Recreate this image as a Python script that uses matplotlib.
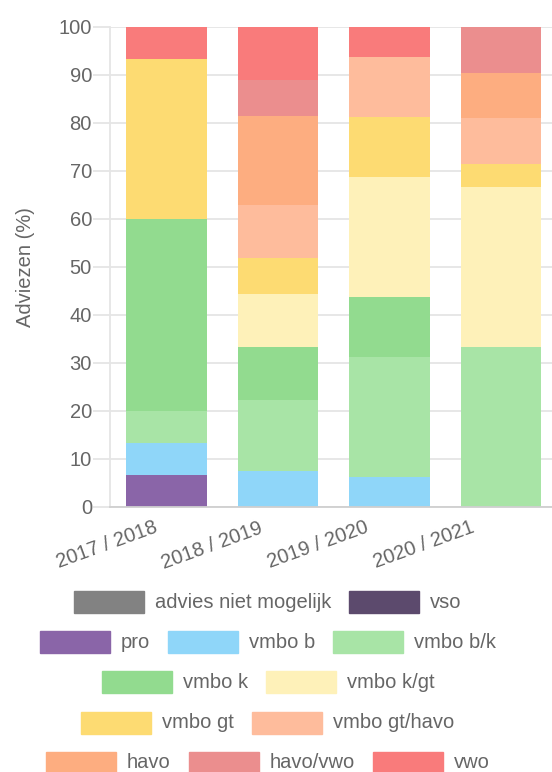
import matplotlib.pyplot as plt
import matplotlib.patches as mpatches
import matplotlib.transforms as mtransforms
import numpy as np

plt.rcParams['font.family'] = ['Liberation Sans', 'DejaVu Sans']

years = ['2017 / 2018', '2018 / 2019', '2019 / 2020', '2020 / 2021']
series = ['advies niet mogelijk', 'vso', 'pro', 'vmbo b', 'vmbo b/k', 'vmbo k',
          'vmbo k/gt', 'vmbo gt', 'vmbo gt/havo', 'havo', 'havo/vwo', 'vwo']
colors = ['#828282', '#5c4a6d', '#8a65a8', '#8fd6f9', '#a8e4a6', '#92db8f',
          '#fef1b9', '#fddb72', '#febc9c', '#fdad80', '#eb8e8e', '#f97b7b']

# percentages per series, one value per school year
adv_niet = [0, 0, 0, 0]
vso = [0, 0, 0, 0]
pro = [6.67, 0, 0, 0]
vmbo_b = [6.67, 7.41, 6.25, 0]
vmbo_bk = [6.67, 14.81, 25.0, 33.33]
vmbo_k = [40.0, 11.11, 12.5, 0]
vmbo_kgt = [0, 11.11, 25.0, 33.33]
vmbo_gt = [33.33, 7.41, 12.5, 4.76]
vmbo_gthavo = [0, 11.11, 12.5, 9.52]
havo = [0, 18.52, 0, 9.52]
havo_vwo = [0, 7.41, 0, 9.52]
vwo = [6.67, 11.11, 6.25, 0]
values = [adv_niet, vso, pro, vmbo_b, vmbo_bk, vmbo_k, vmbo_kgt, vmbo_gt,
          vmbo_gthavo, havo, havo_vwo, vwo]

W, H = 552, 772
FS = 14.5
fig = plt.figure(figsize=(W / 100, H / 100), dpi=100)
ax = fig.add_axes([110 / W, 1 - 507 / H, 1 - 110 / W, 480 / H])

x = np.arange(len(years))
bottom = np.zeros(len(years))
for name, vals, c in zip(series, values, colors):
    vals = np.array(vals)
    ax.bar(x, vals, 0.72, bottom=bottom, color=c, label=name, linewidth=0)
    bottom += vals

grid_c = '#e5e5e5'
txt_c = '#666666'
ax.set_ylim(0, 100)
ax.set_xlim(-0.507, 3.457)
ax.set_yticks(range(0, 101, 10))
ax.yaxis.grid(True, color=grid_c, linewidth=1.3)
ax.set_axisbelow(True)
for s in ['top', 'right']:
    ax.spines[s].set_visible(False)
ax.spines['left'].set_color(grid_c)
ax.spines['left'].set_linewidth(1.3)
ax.spines['bottom'].set_color('#cfcfcf')
ax.spines['bottom'].set_linewidth(1.3)
ax.tick_params(axis='y', length=12, width=1.3, color=grid_c, pad=1,
               labelsize=FS, labelcolor=txt_c)
ax.tick_params(axis='x', length=0, labelsize=FS, labelcolor=txt_c, pad=8)
ax.set_xticks(x)
ax.set_xticklabels(years, rotation=20, ha='right', rotation_mode='anchor')
for k, lab in enumerate(ax.get_xticklabels()):
    off = mtransforms.ScaledTranslation((-13.5 - 5.8 * k) / 100, 0,
                                        fig.dpi_scale_trans)
    lab.set_transform(lab.get_transform() + off)
ax.set_ylabel('Adviezen (%)', fontsize=FS, color=txt_c, labelpad=17)

# legend drawn row by row, centred like the original
rows = [[0, 1], [2, 3, 4], [5, 6], [7, 8], [9, 10, 11]]
row_y = [602, 642, 682, 723, 763]
fig.canvas.draw()
renderer = fig.canvas.get_renderer()
box_w, box_h, gap_t, gap_i = 70, 22, 11, 18
for row, yc in zip(rows, row_y):
    widths = []
    for i in row:
        t = fig.text(0, 0, series[i], fontsize=FS)
        widths.append(t.get_window_extent(renderer).width)
        t.remove()
    total = sum(box_w + gap_t + w for w in widths) + gap_i * (len(row) - 1)
    xs = 268 - total / 2
    for i, w in zip(row, widths):
        fig.patches.append(mpatches.Rectangle(
            (xs / W, 1 - (yc + box_h / 2) / H), box_w / W, box_h / H,
            transform=fig.transFigure, facecolor=colors[i],
            edgecolor=colors[i], linewidth=1))
        fig.text((xs + box_w + gap_t) / W, 1 - yc / H, series[i], fontsize=FS,
                 color=txt_c, va='center', ha='left')
        xs += box_w + gap_t + w + gap_i

fig.savefig('out.png', dpi=100)
